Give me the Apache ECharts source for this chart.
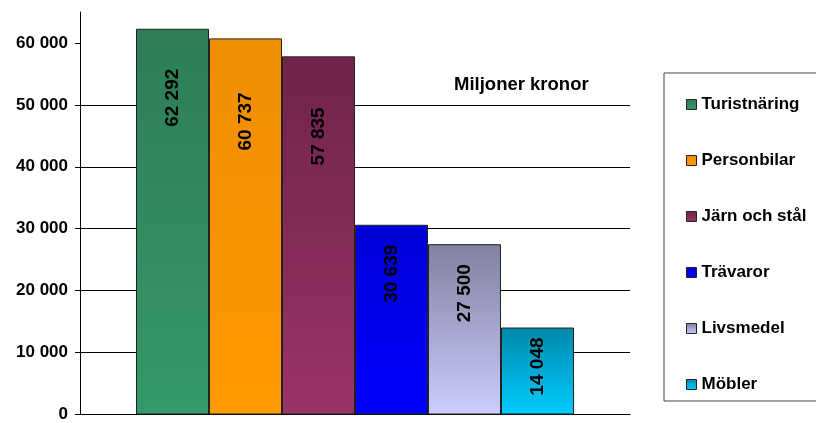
<!DOCTYPE html>
<html>
<head>
<meta charset="utf-8">
<script src="https://cdn.jsdelivr.net/npm/echarts@6/dist/echarts.min.js"></script>
<style>
  html, body { margin: 0; padding: 0; background: #fff; }
  #chart { width: 816px; height: 423px; }
</style>
</head>
<body>
<div id="chart"></div>
<script>
// data
const names = ["Turistnäring", "Personbilar", "Järn och stål", "Trävaror", "Livsmedel", "Möbler"];
const values = [62292, 60737, 57835, 30639, 27500, 14048];
const yTicks = [0, 10000, 20000, 30000, 40000, 50000, 60000];
const unitLabel = "Miljoner kronor";

// bar fills, top -> bottom
const gradTop = ["#2d7d56", "#ee8e00", "#70234a", "#0000d8", "#8080a0", "#0088aa"];
const gradBottom = ["#35996a", "#ff9900", "#993366", "#0000ff", "#ccccff", "#00ccff"];
const labelDy = [69, 83, 80, 49, 49, 39];

const font = "'Liberation Sans', Arial, sans-serif";

function fmt(v) {
  return String(v).replace(/\B(?=(\d{3})+(?!\d))/g, " ");
}

const chart = echarts.init(document.getElementById("chart"));

const series = names.map((n, i) => ({
  name: n,
  type: "bar",
  data: [values[i]],
  barWidth: 73,
  barGap: 0,
  itemStyle: {
    color: new echarts.graphic.LinearGradient(0, 0, 0, 1, [
      { offset: 0, color: gradTop[i] },
      { offset: 1, color: gradBottom[i] }
    ]),
    borderColor: "#222",
    borderWidth: 1
  },
  label: {
    show: true,
    position: ["50%", labelDy[i]],
    rotate: 90,
    align: "center",
    verticalAlign: "middle",
    color: "#000",
    fontFamily: font,
    fontWeight: "bold",
    fontSize: 19,
    formatter: p => fmt(p.value)
  }
}));

chart.setOption({
  animation: false,
  title: {
    text: unitLabel,
    left: 449,
    top: 70,
    textStyle: { fontFamily: font, fontWeight: "bold", fontSize: 18.5, color: "#000" }
  },
  legend: {
    orient: "vertical",
    left: 664,
    top: 73,
    padding: [23, 60, 8, 22],
    borderColor: "#444",
    borderWidth: 1,
    itemWidth: 10,
    itemHeight: 10,
    itemGap: 39,
    icon: "rect",
    itemStyle: { borderColor: "#222", borderWidth: 1 },
    textStyle: { fontFamily: font, fontWeight: "bold", fontSize: 17, color: "#000" },
    data: names
  },
  grid: { left: 80, right: 186, top: 12, bottom: 5, containLabel: false },
  xAxis: {
    type: "category",
    data: [""],
    axisLine: { lineStyle: { color: "#000", width: 1 } },
    axisTick: { show: false },
    axisLabel: { show: false }
  },
  yAxis: {
    type: "value",
    min: 0,
    max: 65000,
    interval: 10000,
    axisLine: { show: true, lineStyle: { color: "#000" } },
    axisTick: { show: true, length: 5, lineStyle: { color: "#000" }, customValues: yTicks },
    axisLabel: {
      customValues: yTicks,
      margin: 12,
      fontFamily: font,
      fontWeight: "bold",
      fontSize: 17,
      color: "#000",
      formatter: v => fmt(v)
    },
    splitLine: { show: true, showMaxLine: false, lineStyle: { color: "#000", width: 1 } }
  },
  series: series
});
</script>
</body>
</html>
